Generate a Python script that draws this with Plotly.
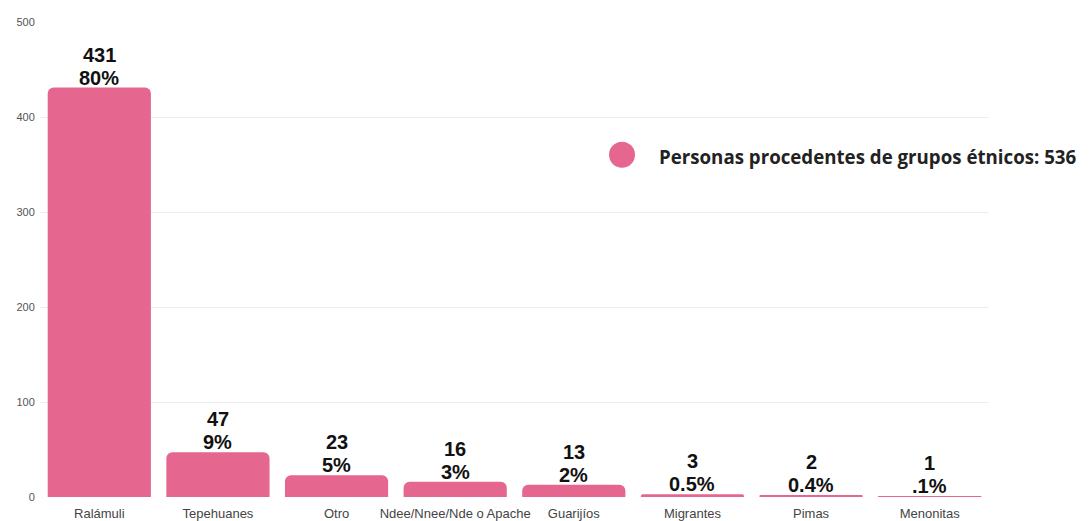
import plotly.graph_objects as go

categories = ["Ralámuli", "Tepehuanes", "Otro", "Ndee/Nnee/Nde o Apache",
              "Guarijíos", "Migrantes", "Pimas", "Menonitas"]
counts = [431, 47, 23, 16, 13, 3, 2, 1]
percents = ["80%", "9%", "5%", "3%", "2%", "0.5%", "0.4%", ".1%"]
legend_label = "Personas procedentes de grupos étnicos: 536"
y_ticks = [0, 100, 200, 300, 400, 500]

PINK = "#E5678F"
LABEL_FONT = dict(family="Liberation Sans, Arial, sans-serif", size=20, color="#111111")

fig = go.Figure()
fig.add_trace(go.Bar(
    x=categories, y=counts,
    marker=dict(color=PINK, cornerradius=6, line=dict(width=0)),
    hoverinfo="x+y", showlegend=False,
))

annotations = []
for cat, c, p in zip(categories, counts, percents):
    annotations.append(dict(x=cat, y=c, xref="x", yref="y", text=f"<b>{p}</b>",
                            showarrow=False, yanchor="bottom", yshift=-3, font=LABEL_FONT))
    annotations.append(dict(x=cat, y=c, xref="x", yref="y", text=f"<b>{c}</b>",
                            showarrow=False, yanchor="bottom", yshift=20, font=LABEL_FONT))

annotations.append(dict(text="<b>" + legend_label + "</b>", xref="paper", yref="paper",
                        x=0.650, y=0.716, xanchor="left", yanchor="middle", showarrow=False,
                        font=dict(family="Open Sans, sans-serif", size=18.7, color="#222222")))

fig.update_layout(
    width=1090, height=521,
    margin=dict(l=32, r=109, t=8, b=31),
    paper_bgcolor="white", plot_bgcolor="white",
    bargap=0.13,
    xaxis=dict(
        tickfont=dict(family="Liberation Sans, Arial, sans-serif", size=13, color="#444444"),
        showgrid=False, showline=False, ticks="outside", ticklen=4,
        tickcolor="rgba(0,0,0,0)",
    ),
    yaxis=dict(
        range=[0, 500], tickvals=y_ticks,
        tickfont=dict(family="Liberation Sans, Arial, sans-serif", size=11, color="#555555"),
        showgrid=True, gridcolor="#EDEDED", gridwidth=1,
        zeroline=False, showline=False, ticks="outside", ticklen=2,
        tickcolor="rgba(0,0,0,0)",
    ),
    shapes=[dict(type="circle", xref="paper", yref="paper",
                 x0=0.5996, x1=0.627, y0=0.693, y1=0.748,
                 fillcolor=PINK, line=dict(width=0))],
    annotations=annotations,
)

fig.write_html("out.html")
